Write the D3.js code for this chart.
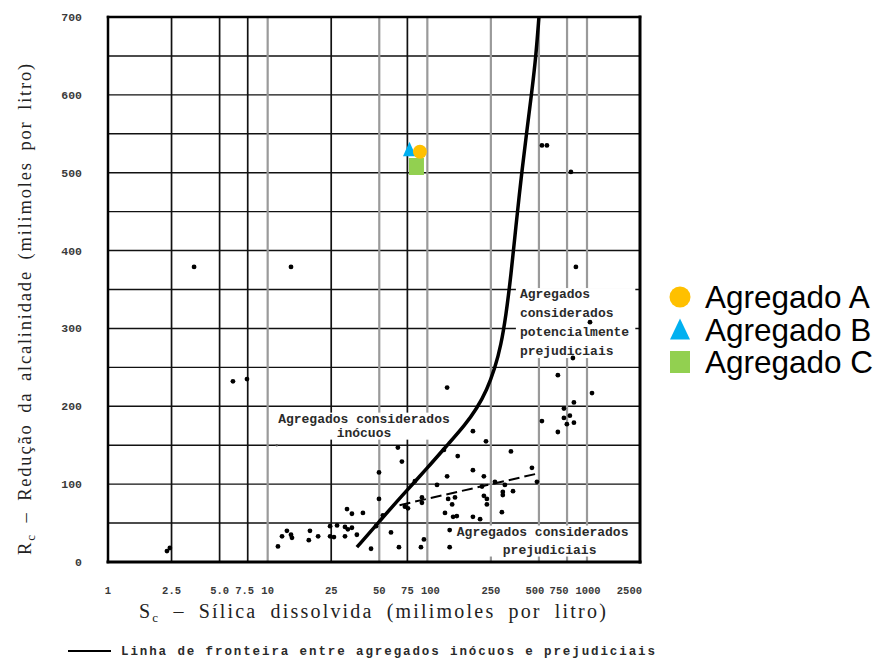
<!DOCTYPE html>
<html>
<head>
<meta charset="utf-8">
<script src="https://cdn.jsdelivr.net/npm/d3@7"></script>
<style>
  body{margin:0;background:#fff;}
  svg{display:block;}
</style>
</head>
<body>
<div id="chart"></div>
<script>
// axis values
var xTickVals = [1, 2.5, 5, 7.5, 10, 25, 50, 75, 100, 250, 500, 750, 1000, 2500];
var xTickLabels = ["1", "2.5", "5.0", "7.5", "10", "25", "50", "75", "100", "250", "500", "750", "1000", "2500"];
var xTickShift = [0, 0, 0, -3, 0, 0, 0, 0, 3, 0, -4, -8, 1, 0];
var gridDark = [2.5, 5, 7.5, 25, 75];
var gridGray = [10, 50, 100, 250, 500, 750, 1000];
var yTicks = [0, 100, 200, 300, 400, 500, 600, 700];
var yGrid = [50, 100, 150, 200, 250, 300, 350, 400, 450, 500, 550, 600, 650];

// boundary line (Sc, Rc)
var boundary = [[36.2,19],[50.5,53],[69.3,85],[99.4,120],[138.5,154],[172,176],[204,197],[236,221],[265,249],[289,278],[311,317],[334,368],[359,432],[386,492],[420,554],[452,605],[479,650],[500,700]];
// dashed trend line
var trend = [[67,73],[500,114]];

// samples (Sc, Rc)
var samples = [
  [2.34,14],[2.44,18],[3.46,379],[14.0,379],[6.06,232],[7.42,235],
  [11.6,20],[12.3,33],[13.2,40],[14.0,35],[14.2,31],[18.4,40],[18.1,28],[20.7,33],
  [24.6,46],[27.2,47],[24.6,33],[26.0,32],[30.5,45],[31.8,42],[33.7,44],[31.4,68],
  [33.7,62],[39.5,63],[30.5,33],[36.2,35],[44.4,17],[47.7,46],[49.8,115],[49.8,81],
  [52.7,60],[59.2,38],[65.4,147],[69.3,129],[66.4,19],[72.4,71],[75.6,69],[83.6,104],
  [91.2,19],[95.2,29],[92.5,83],[92.5,76],[115,99],[127,144],[133,110],[129,63],
  [138,41],[138,19],[133,224],[135,81],[143,74],[149,83],[145,58],[153,59],[155,136],
  [193,168],[193,118],[193,58],[214,55],[233,155],[226,110],[220,97],[226,85],[236,81],
  [236,74],[265,103],[297,90],[297,86],[293,64],[306,99],[334,142],[344,91],[452,121],
  [486,103],[522,181],[657,167],[717,197],[781,188],[717,185],[828,179],[748,177],
  [828,205],[657,240],[816,262],[1090,217],[1053,308],[852,379],[793,501],[522,535],[561,535]
];
var faintSamples = [[11.4,150]];

// aggregates tested
var aggregates = ["Agregado A", "Agregado B", "Agregado C"];
var aggSc = [89.9, 77.3, 85.5];
var aggRc = [527, 529.5, 508];
var aggShapes = ["circle", "triangle", "square"];
var aggColors = ["#FFC000", "#00B0F0", "#92D050"];

var W = 876, H = 659;
var svg = d3.select("#chart").append("svg").attr("width", W).attr("height", H);

var x = d3.scaleLog().domain([1, 1000, 2500]).range([108, 587, 640]);
var y = d3.scaleLinear().domain([0, 700]).range([562, 17]);

var mono = "'Liberation Mono', 'DejaVu Sans Mono', monospace";
var serif = "'Liberation Serif', 'DejaVu Serif', serif";

function fit(sel, target){
  var n = sel.text().length;
  var w = sel.node().getComputedTextLength();
  sel.attr("letter-spacing", ((target - w) / (n - 1)).toFixed(3));
}
// spread the remaining room over the word gaps
function fitWords(sel, target, ls){
  sel.attr("letter-spacing", ls);
  var spaces = sel.text().split(" ").length - 1;
  var w = sel.node().getComputedTextLength();
  sel.attr("word-spacing", Math.max(0, (target - w) / spaces).toFixed(3));
}

var g = svg.append("g");
var gGrid = g.append("g");
var gBoxes = g.append("g");
var gFrame = g.append("g");
var gMarks = g.append("g");
var gNotes = g.append("g");

// grid
gGrid.selectAll("line.hgrid").data(yGrid).enter().append("line").attr("class","hgrid")
  .attr("x1", x(1)).attr("x2", x(2500)).attr("y1", d => y(d)).attr("y2", d => y(d))
  .attr("stroke", "#111").attr("stroke-width", 1.4);

gGrid.selectAll("line.vgray").data(gridGray).enter().append("line").attr("class","vgray")
  .attr("x1", d => x(d)).attr("x2", d => x(d)).attr("y1", y(0)).attr("y2", y(700))
  .attr("stroke", "#9a9a9a").attr("stroke-width", 2.2);

gGrid.selectAll("line.vdark").data(gridDark).enter().append("line").attr("class","vdark")
  .attr("x1", d => x(d)).attr("x2", d => x(d)).attr("y1", y(0)).attr("y2", y(700))
  .attr("stroke", "#111").attr("stroke-width", 1.7);

// frame
var frame = [
  {x1:x(1), x2:x(1), y1:y(0), y2:y(700), w:2.5},
  {x1:x(1), x2:x(2500), y1:y(700), y2:y(700), w:2.5},
  {x1:x(2500), x2:x(2500), y1:y(0), y2:y(700), w:3},
  {x1:x(1), x2:x(2500), y1:y(0), y2:y(0), w:3}
];
gFrame.selectAll("line.frame").data(frame).enter().append("line")
  .attr("x1", d => d.x1).attr("x2", d => d.x2).attr("y1", d => d.y1).attr("y2", d => d.y2)
  .attr("stroke", "#000").attr("stroke-width", d => d.w).attr("stroke-linecap", "square");

// tick labels
g.selectAll("text.xt").data(xTickVals).enter().append("text")
  .attr("x", (d,i) => i == xTickVals.length - 1 ? x(d) + 2 : x(d) + xTickShift[i])
  .attr("y", 594)
  .attr("text-anchor", (d,i) => i == xTickVals.length - 1 ? "end" : "middle")
  .style("font-family", mono).style("font-size", "10.5px").style("font-weight", "bold").attr("fill", "#3a3a3a")
  .text((d,i) => xTickLabels[i]);

g.selectAll("text.yt").data(yTicks).enter().append("text")
  .attr("x", 82).attr("y", d => y(d) + 4)
  .attr("text-anchor", "end")
  .style("font-family", mono).style("font-size", "11.5px").style("font-weight", "bold").attr("fill", "#3a3a3a")
  .text(d => d);

// axis titles
var xt = svg.append("text").attr("x", 139).attr("y", 618)
  .style("font-family", serif).style("font-size", "20px").attr("fill", "#222");
xt.append("tspan").text("S");
xt.append("tspan").attr("dy", 4).style("font-size", "13px").text("c");
xt.append("tspan").attr("dy", -4).text(" – Sílica dissolvida (milimoles por litro)");
fitWords(xt, 469, 2.2);

var yt = svg.append("text").attr("transform", "translate(31,555) rotate(-90)")
  .style("font-family", serif).style("font-size", "18.5px").attr("fill", "#222");
yt.append("tspan").text("R");
yt.append("tspan").attr("dy", 4).style("font-size", "13px").text("c");
yt.append("tspan").attr("dy", -4).text(" – Redução da alcalinidade (milimoles por litro)");
fitWords(yt, 493, 1.8);

// annotations, each on a white patch that hides the grid
var notes = [
  {lines:["Agregados considerados", "inócuos"], sc:40.1, rc:179, anchor:"middle", lh:14},
  {lines:["Agregados", "considerados", "potencialmente", "prejudiciais"], sc:380, rc:339, anchor:"start", lh:19},
  {lines:["Agregados considerados", "prejudiciais"], sc:153, rc:34, anchor:"start", lh:18}
];
notes.forEach(function(n, k){
  var block = gNotes.append("g");
  n.lines.forEach(function(t, j){
    var dxl = (k == 2 && j == 1) ? 46 : 0;
    block.append("text").attr("x", x(n.sc) + dxl).attr("y", y(n.rc) + j * n.lh)
      .attr("text-anchor", n.anchor)
      .style("font-family", mono).style("font-size", "13px").style("font-weight", "bold").attr("fill", "#2a2a2a")
      .text(t);
  });
  var bb = block.node().getBBox();
  gBoxes.append("rect")
    .attr("x", bb.x - 4).attr("y", bb.y + 1)
    .attr("width", Math.min(bb.width + 10, x(2500) - 1.5 - (bb.x - 4))).attr("height", bb.height - 2)
    .attr("fill", "#fff");
});

// boundary curve
var line = d3.line().x(d => x(d[0])).y(d => y(d[1])).curve(d3.curveBasis);
gMarks.append("path").datum(boundary).attr("d", line)
  .attr("fill", "none").attr("stroke", "#000").attr("stroke-width", 3.5);

gMarks.append("path").datum(trend).attr("d", d3.line().x(d => x(d[0])).y(d => y(d[1])))
  .attr("fill", "none").attr("stroke", "#000").attr("stroke-width", 2).attr("stroke-dasharray", "11,5");

// sample dots
gMarks.selectAll("circle.s").data(samples).enter().append("circle")
  .attr("cx", d => x(d[0])).attr("cy", d => y(d[1])).attr("r", 2.4).attr("fill", "#000");
gMarks.selectAll("circle.f").data(faintSamples).enter().append("circle")
  .attr("cx", d => x(d[0])).attr("cy", d => y(d[1])).attr("r", 1.2).attr("fill", "#555");

// tested aggregates on the chart
var order = [1, 2, 0];
order.forEach(function(i){
  var cx = x(aggSc[i]), cy = y(aggRc[i]);
  if(aggShapes[i] == "circle"){
    gMarks.append("circle").attr("cx", cx).attr("cy", cy).attr("r", 7).attr("fill", aggColors[i]);
  } else if(aggShapes[i] == "square"){
    gMarks.append("rect").attr("x", cx - 7.5).attr("y", cy - 8.5).attr("width", 15).attr("height", 17).attr("fill", aggColors[i]);
  } else {
    var s = 13;
    gMarks.append("path").attr("d", "M" + cx + "," + (cy - s * 0.62) + "L" + (cx + s / 2) + "," + (cy + s / 2) + "L" + (cx - s / 2) + "," + (cy + s / 2) + "Z")
      .attr("fill", aggColors[i]);
  }
});

// legend right
var leg = svg.append("g").attr("transform", "translate(680,297)");
aggregates.forEach(function(name, i){
  var row = leg.append("g").attr("transform", "translate(0," + (i * 32.5) + ")");
  if(aggShapes[i] == "circle"){
    row.append("circle").attr("r", 10.5).attr("fill", aggColors[i]);
  } else if(aggShapes[i] == "triangle"){
    row.append("path").attr("d", "M0,-11L10,10L-10,10Z").attr("fill", aggColors[i]);
  } else {
    row.append("rect").attr("x", -10).attr("y", -11).attr("width", 20).attr("height", 22).attr("fill", aggColors[i]);
  }
  row.append("text").attr("x", 25).attr("y", 11)
    .style("font-family", "'Liberation Sans', Arial, sans-serif").style("font-size", "31.5px").attr("fill", "#000")
    .text(name);
});

// legend below
svg.append("line").attr("x1", 68).attr("x2", 111).attr("y1", 651).attr("y2", 651)
  .attr("stroke", "#000").attr("stroke-width", 2);
var lt = svg.append("text").attr("x", 121).attr("y", 655)
  .style("font-family", mono).style("font-size", "12.5px").style("font-weight", "bold").attr("fill", "#2a2a2a")
  .text("Linha de fronteira entre agregados inócuos e prejudiciais");
fit(lt, 534);
</script>
</body>
</html>
